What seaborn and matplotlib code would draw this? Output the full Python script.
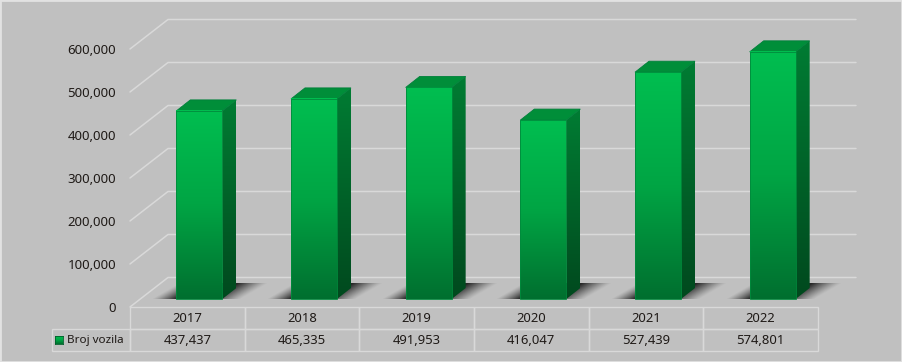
import numpy as np
import pandas as pd
import seaborn as sns
import matplotlib
matplotlib.use("Agg")
import matplotlib.pyplot as plt
from matplotlib.colors import LinearSegmentedColormap
from matplotlib.lines import Line2D
from matplotlib.patches import Polygon, Rectangle
from matplotlib.transforms import IdentityTransform

years = ["2017", "2018", "2019", "2020", "2021", "2022"]
vehicles = [437437, 465335, 491953, 416047, 527439, 574801]
y_ticks = [0, 100000, 200000, 300000, 400000, 500000, 600000]
series_name = "Broj vozila"

BG = "#C0C0C0"
LINE = "#D9D9D9"
TXT = "#1F1A17"
sns.set_theme(style="white")
plt.rcParams["font.family"] = ["Noto Sans", "DejaVu Sans"]
W, H = 902, 362
fig = plt.figure(figsize=(W / 100, H / 100), dpi=100, facecolor=BG)


def box(x0, ytop, x1, ybot):
    return [x0 / W, 1 - ybot / H, (x1 - x0) / W, (ybot - ytop) / H]


PX = 0.00043  # pixels per unit of value
# front plane of the chart: carries the value labels and the data table
axf = fig.add_axes(box(130, 49, 818, 307), facecolor="none", zorder=1)
axf.set_xlim(-0.5, 5.5)
axf.set_ylim(0, 600000)
axf.set_xticks([])
axf.set_yticks(y_ticks)
axf.set_yticklabels([f"{v:,}" for v in y_ticks], fontsize=9.5, color=TXT)
axf.tick_params(axis="y", length=0, pad=10)
for s in axf.spines.values():
    s.set_visible(False)

# wall and floor lines, pushed back by the depth of the 3D box
fig.canvas.draw()
idt = IdentityTransform()
for v in y_ticks:
    x0, y0 = axf.transData.transform((-0.5, v))
    x1, y1 = axf.transData.transform((5.5, v))
    fig.add_artist(Line2D([x0, x0 + 38, x1 + 38], [y0, y0 + 29.5, y1 + 29.5],
                          transform=idt, color=LINE, lw=1.1, zorder=0.5))

# data table below the plot
tb = axf.table(cellText=[[f"{v:,}" for v in vehicles]], colLabels=years,
               colWidths=[1 / 6] * 6,
               cellLoc="center",
               bbox=[0, -44 / 258, 1, 44 / 258])
tb.add_cell(1, -1, width=78 / 688, height=tb[(1, 0)].get_height(),
            text=series_name, loc="left")
tb[(1, -1)].PAD = 15 / 78
tb.auto_set_font_size(False)
tb.set_fontsize(9.4)
tb[(1, -1)].get_text().set_fontsize(8.4)
for (r, c), cell in tb.get_celld().items():
    cell.set_edgecolor(LINE)
    cell.set_facecolor("none")
    cell.set_linewidth(1)
    cell.get_text().set_color(TXT)

# bars live on an axes shifted by half the box depth
axb = fig.add_axes(box(130, 19, 818, 307), facecolor="none", zorder=2)
df = pd.DataFrame({"year": years, "vehicles": vehicles})
sns.barplot(data=df, x="year", y="vehicles", ax=axb, width=46 / 114.67,
            color="#00A040", saturation=1, errorbar=None)
dx = 12 / 114.67
axb.set_xlim(-0.5 - dx, 5.5 - dx)
axb.set_ylim(-8 / PX, 280 / PX)
axb.set_autoscale_on(False)
axb.axis("off")

front = LinearSegmentedColormap.from_list("f", ["#00BE50", "#00A544", "#006F2F"])
side = LinearSegmentedColormap.from_list("s", ["#007C33", "#00491E"])
grad = np.linspace(0, 1, 256).reshape(-1, 1)
DX, DY = 14, 11


def to_data(px, py):
    return axb.transData.inverted().transform((px, py))


for bar in list(axb.patches):
    bar.set_visible(False)
    bx, bw, bh = bar.get_x(), bar.get_width(), bar.get_height()
    (l, b) = axb.transData.transform((bx, 0))
    (r, t) = axb.transData.transform((bx + bw, bh))

    # cast shadow on the floor
    xs = np.arange(l - 30, r + 48)
    ys = np.arange(b, b + 17)
    sx, sy = np.meshgrid(xs, ys)
    shift = (sy - b) / 16 * 26
    a = np.minimum((sx - (l - 24 + shift)) / 24, ((r + 20 + shift) - sx) / 30)
    a = np.clip(a, 0, 1) ** 1.2 * 0.8
    rgba = np.zeros(a.shape + (4,))
    rgba[..., 3] = a
    p0, p1 = to_data(xs[0], b), to_data(xs[-1], ys[-1])
    axb.imshow(rgba, origin="lower", aspect="auto", zorder=1,
               extent=[p0[0], p1[0], p0[1], p1[1]], clip_on=False)

    # right side, gradient clipped to a parallelogram
    q = [to_data(*c) for c in [(r, b), (r + DX, b + DY), (r + DX, t + DY), (r, t)]]
    e0, e1 = to_data(r, b), to_data(r + DX, t + DY)
    im = axb.imshow(grad, cmap=side, aspect="auto", zorder=2, origin="lower",
                    extent=[e0[0], e1[0], e1[1], e0[1]])
    im.set_clip_path(Polygon(q, transform=axb.transData))

    # top face
    q = [to_data(*c) for c in [(l, t), (l + DX, t + DY), (r + DX, t + DY), (r, t)]]
    axb.add_patch(Polygon(q, closed=True, fc="#008E39", ec="#00803A", lw=0.6, zorder=3,
                          clip_on=False))

    # front face
    axb.imshow(grad[::-1], cmap=front, aspect="auto", zorder=4, origin="lower",
               extent=[bx, bx + bw, 0, bh], clip_on=False)
    axb.add_patch(Rectangle((bx, 0), bw, bh, fc="none", ec="#008A3C", lw=0.6, zorder=5,
                            clip_on=False))

# legend key in the table's row label
axk = fig.add_axes(box(55, 336, 63, 344), zorder=3)
axk.imshow(grad, cmap=front, aspect="auto")
axk.set_xticks([])
axk.set_yticks([])
for s in axk.spines.values():
    s.set_color("#00602A")
    s.set_linewidth(0.6)

# thin lighter frame round the picture
fig.add_artist(Rectangle((0, 0), 1, 1, transform=fig.transFigure, fc="none",
                         ec="#E2E2E2", lw=2))

fig.savefig("out.png", dpi=100, facecolor=BG)
